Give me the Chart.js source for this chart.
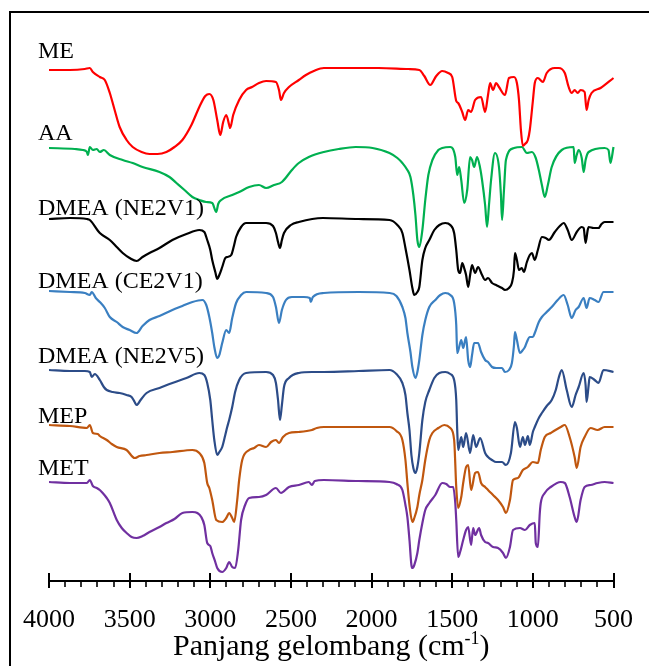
<!DOCTYPE html>
<html>
<head>
<meta charset="utf-8">
<script src="https://cdn.jsdelivr.net/npm/chart.js@4.4.1/dist/chart.umd.min.js"></script>
<style>
  html, body { margin: 0; padding: 0; background: #ffffff; }
  canvas { display: block; }
</style>
</head>
<body>
<canvas id="c" width="649" height="666"></canvas>
<script>
// ---- Data (wavenumber cm-1, offset transmittance in arbitrary units) ----
const seriesNames = ['ME', 'AA', 'DMEA (NE2V1)', 'DMEA (CE2V1)', 'DMEA (NE2V5)', 'MEP', 'MET'];
const xTickValues = [4000, 3500, 3000, 2500, 2000, 1500, 1000, 500];
const axisTitle = 'Panjang gelombang (cm';
const axisTitleSup = '-1';

const ME = [[4000,511],[3870,511],[3778,512],[3747,513],[3728,509],[3685,504],[3654,501],[3623,488],[3593,471],[3562,454],[3519,441],[3481,434],[3426,429],[3377,427],[3327,427],[3272,429],[3222,434],[3173,441],[3117,456],[3068,474],[3031,485],[3006,487],[2981,481],[2957,461],[2938,446],[2920,459],[2901,466],[2883,456],[2877,453],[2858,466],[2821,481],[2778,491],[2741,494],[2698,498],[2654,500],[2593,499],[2574,491],[2562,481],[2543,488],[2512,494],[2451,501],[2407,506],[2358,510],[2296,513],[2142,513],[1957,513],[1772,512],[1704,511],[1673,505],[1636,496],[1599,505],[1562,510],[1525,508],[1500,504],[1475,480],[1463,478],[1438,469],[1420,461],[1401,471],[1383,469],[1358,481],[1321,484],[1296,469],[1278,486],[1265,498],[1247,491],[1228,498],[1210,494],[1173,486],[1148,503],[1117,504],[1099,498],[1086,481],[1074,451],[1062,435],[1049,437],[1031,441],[1019,451],[1000,480],[988,498],[969,503],[938,499],[914,508],[864,513],[840,513],[802,508],[778,494],[759,488],[741,491],[722,488],[704,491],[679,489],[667,471],[654,481],[636,488],[580,493],[500,503]];

const AA = [[4000,433],[3840,432],[3790,431],[3765,429],[3759,426],[3747,434],[3728,431],[3704,432],[3685,429],[3660,431],[3623,426],[3543,421],[3481,418],[3420,414],[3315,409],[3253,404],[3210,398],[3160,391],[3111,384],[3068,381],[3025,379],[2988,378],[2963,369],[2951,377],[2932,381],[2864,386],[2821,389],[2759,394],[2698,396],[2654,393],[2605,396],[2556,399],[2494,411],[2451,418],[2389,424],[2296,429],[2204,432],[2099,434],[1994,433],[1889,428],[1840,423],[1809,418],[1778,411],[1759,404],[1741,386],[1728,366],[1716,341],[1704,334],[1685,351],[1667,381],[1648,406],[1623,421],[1586,431],[1562,433],[1512,434],[1481,424],[1469,406],[1457,414],[1444,401],[1426,378],[1407,391],[1389,424],[1377,421],[1364,414],[1346,424],[1327,413],[1315,401],[1296,376],[1284,354],[1272,376],[1259,401],[1235,428],[1210,414],[1198,386],[1191,361],[1179,391],[1167,421],[1117,433],[1068,434],[1037,428],[1006,429],[982,423],[963,411],[944,396],[926,384],[907,396],[883,414],[821,431],[747,434],[741,418],[728,426],[716,431],[697,423],[685,409],[673,421],[654,429],[555,433],[531,431],[519,418],[500,434]];

const NE2V1 = [[4000,362],[3870,363],[3765,362],[3747,361],[3685,348],[3623,341],[3580,334],[3543,328],[3500,323],[3457,320],[3420,324],[3377,328],[3315,333],[3235,341],[3148,347],[3068,351],[3037,349],[3019,341],[3000,331],[2988,321],[2969,309],[2957,302],[2944,306],[2926,314],[2907,323],[2895,324],[2870,326],[2852,336],[2840,344],[2809,354],[2778,358],[2654,358],[2611,355],[2593,348],[2580,339],[2568,333],[2556,341],[2543,348],[2500,356],[2451,359],[2302,363],[2080,362],[1889,361],[1840,356],[1809,348],[1790,333],[1765,311],[1747,293],[1735,286],[1716,289],[1704,294],[1685,321],[1667,333],[1642,341],[1611,351],[1580,356],[1543,358],[1512,356],[1488,348],[1475,331],[1463,311],[1451,308],[1438,318],[1426,313],[1414,306],[1401,294],[1389,306],[1377,316],[1358,308],[1340,314],[1315,306],[1296,301],[1278,303],[1253,298],[1228,296],[1191,293],[1173,291],[1148,293],[1130,298],[1117,311],[1111,328],[1099,321],[1086,311],[1068,313],[1056,309],[1037,319],[1019,326],[1006,328],[988,321],[969,331],[944,344],[920,343],[901,341],[864,349],[833,355],[809,358],[784,351],[759,341],[728,349],[697,354],[685,353],[673,338],[660,351],[654,354],[623,353],[593,353],[574,357],[555,359],[500,359]];

const CE2V1 = [[4000,290],[3870,289],[3778,288],[3747,286],[3735,289],[3710,283],[3685,279],[3654,273],[3623,264],[3580,259],[3543,254],[3500,251],[3457,248],[3420,255],[3377,261],[3315,265],[3235,271],[3173,275],[3111,279],[3049,281],[3025,276],[3006,264],[2988,248],[2975,234],[2957,223],[2944,226],[2926,238],[2901,251],[2883,248],[2864,263],[2840,278],[2809,286],[2778,289],[2654,288],[2611,284],[2593,274],[2574,258],[2556,271],[2531,281],[2494,284],[2420,284],[2383,283],[2377,279],[2364,284],[2296,288],[2080,289],[1889,288],[1846,285],[1809,274],[1790,263],[1778,248],[1759,229],[1747,214],[1728,203],[1716,209],[1704,221],[1685,246],[1667,261],[1642,274],[1605,281],[1574,286],[1543,288],[1512,286],[1488,278],[1475,256],[1469,228],[1457,234],[1444,241],[1432,233],[1414,244],[1401,221],[1389,214],[1377,226],[1364,238],[1340,238],[1321,229],[1296,221],[1278,219],[1253,214],[1228,213],[1191,213],[1173,209],[1148,211],[1130,218],[1117,236],[1111,249],[1099,241],[1080,228],[1062,231],[1049,234],[1037,239],[1019,244],[1000,244],[988,248],[963,259],[944,264],[914,269],[883,274],[846,281],[809,286],[784,276],[759,263],[735,271],[716,274],[685,283],[667,273],[648,283],[617,281],[593,279],[562,289],[500,289]];

const NE2V5 = [[4000,211],[3870,210],[3778,210],[3747,209],[3735,204],[3716,207],[3685,201],[3660,194],[3642,191],[3605,189],[3562,188],[3519,186],[3488,184],[3469,179],[3457,176],[3432,181],[3395,188],[3315,193],[3235,198],[3148,203],[3068,208],[3037,206],[3019,198],[3000,181],[2988,161],[2975,141],[2957,126],[2944,129],[2926,134],[2907,146],[2895,154],[2883,161],[2864,174],[2846,189],[2821,201],[2778,208],[2654,209],[2611,206],[2593,198],[2580,181],[2568,161],[2556,176],[2543,194],[2512,203],[2451,208],[2370,209],[2296,209],[2080,210],[1889,211],[1846,207],[1809,198],[1790,186],[1778,168],[1765,151],[1753,126],[1741,113],[1728,108],[1716,114],[1704,128],[1685,161],[1667,179],[1642,191],[1611,203],[1580,208],[1543,209],[1512,207],[1488,201],[1475,181],[1469,151],[1463,131],[1444,144],[1432,134],[1414,148],[1389,128],[1370,146],[1352,134],[1327,143],[1296,128],[1278,124],[1253,121],[1228,119],[1191,119],[1167,116],[1136,128],[1111,159],[1099,153],[1080,134],[1062,144],[1049,136],[1031,145],[1019,136],[1000,149],[988,154],[963,163],[944,168],[914,175],[883,181],[858,191],[840,203],[821,211],[790,191],[759,174],[735,186],[716,194],[685,208],[673,196],[667,179],[654,196],[648,204],[617,201],[593,198],[562,211],[500,209]];

const MEP = [[4000,156],[3870,155],[3765,153],[3747,156],[3728,148],[3697,147],[3685,145],[3642,141],[3611,137],[3580,134],[3519,131],[3469,123],[3438,125],[3395,126],[3315,128],[3235,129],[3111,131],[3068,128],[3037,118],[3019,98],[3006,93],[2988,81],[2963,61],[2926,59],[2901,63],[2883,68],[2864,63],[2852,59],[2833,81],[2821,101],[2802,121],[2759,131],[2728,133],[2698,136],[2654,134],[2623,139],[2593,141],[2574,138],[2549,144],[2512,148],[2451,149],[2370,151],[2340,153],[2296,154],[2080,154],[1889,154],[1846,150],[1809,141],[1790,121],[1778,98],[1765,76],[1747,59],[1735,63],[1716,74],[1704,86],[1685,101],[1667,121],[1642,141],[1623,148],[1586,153],[1549,156],[1512,153],[1488,141],[1475,94],[1463,73],[1444,84],[1432,98],[1414,114],[1401,116],[1383,91],[1358,108],[1340,109],[1321,98],[1296,94],[1278,91],[1247,86],[1216,81],[1185,74],[1167,68],[1142,81],[1123,101],[1093,103],[1062,111],[1031,114],[1000,119],[969,118],[951,131],[926,144],[889,148],[827,154],[802,156],[772,144],[741,124],[728,113],[704,134],[679,144],[642,153],[599,151],[555,154],[500,154]];

const MET = [[4000,99],[3870,98],[3809,98],[3765,98],[3747,101],[3728,95],[3704,93],[3685,91],[3667,88],[3642,83],[3623,78],[3580,61],[3549,53],[3519,48],[3488,44],[3457,43],[3420,45],[3377,49],[3315,54],[3272,58],[3222,62],[3173,68],[3111,69],[3080,68],[3056,64],[3037,56],[3019,38],[3000,35],[2988,28],[2969,19],[2957,13],[2926,9],[2901,13],[2883,19],[2864,14],[2846,13],[2827,31],[2809,61],[2784,76],[2759,83],[2698,84],[2654,86],[2593,93],[2562,88],[2512,94],[2451,96],[2389,99],[2370,96],[2352,100],[2296,101],[2080,100],[1889,99],[1846,97],[1809,91],[1790,76],[1778,64],[1765,41],[1753,16],[1747,13],[1735,16],[1716,28],[1704,41],[1685,58],[1667,71],[1642,78],[1605,86],[1562,98],[1537,97],[1512,94],[1494,94],[1481,78],[1475,61],[1463,24],[1451,29],[1432,41],[1414,51],[1401,54],[1383,36],[1370,53],[1358,46],[1333,53],[1321,46],[1296,39],[1278,38],[1247,34],[1216,33],[1185,28],[1167,23],[1142,34],[1123,51],[1080,53],[1049,51],[1019,56],[988,58],[982,38],[969,34],[957,68],[951,78],[926,88],[889,94],[827,99],[802,98],[772,84],[741,64],[728,59],[704,81],[679,94],[642,96],[599,98],[555,99],[500,98]];

const seriesData = [ME, AA, NE2V1, CE2V1, NE2V5, MEP, MET];

// ---- Styles / layout ----
const colors = ['#FF0000', '#00B050', '#000000', '#3A7FC1', '#2C4C88', '#C0570F', '#7030A0'];
const labelBaselineValues = [523, 441, 366, 293, 218, 158, 106];
const SERIF = '"Liberation Serif", "Times New Roman", serif';

const framePlugin = {
  id: 'framePlugin',
  beforeDraw(chart) {
    const ctx = chart.ctx;
    ctx.save();
    ctx.fillStyle = '#ffffff';
    ctx.fillRect(0, 0, chart.width, chart.height);
    ctx.restore();
  },
  afterDraw(chart) {
    const ctx = chart.ctx;
    const xs = chart.scales.x, ys = chart.scales.y;
    const area = chart.chartArea;
    ctx.save();
    // outer frame
    ctx.strokeStyle = '#000000';
    ctx.lineWidth = 2;
    ctx.strokeRect(10, 12, 700, 700);
    // tick marks
    const yb = area.bottom;
    for (let v = 500; v <= 4000; v += 100) {
      const px = Math.round(xs.getPixelForValue(v));
      ctx.beginPath();
      if (v % 500 === 0) {
        ctx.lineWidth = 2;
        ctx.moveTo(px, yb - 8);
        ctx.lineTo(px, yb + 7);
      } else {
        ctx.lineWidth = 1.6;
        ctx.moveTo(px, yb);
        ctx.lineTo(px, yb + 6);
      }
      ctx.stroke();
    }
    // series labels
    ctx.fillStyle = '#000000';
    ctx.font = '24px ' + SERIF;
    ctx.textAlign = 'left';
    ctx.textBaseline = 'alphabetic';
    seriesNames.forEach((n, i) => {
      ctx.fillText(n, area.left - 11, ys.getPixelForValue(labelBaselineValues[i]));
    });
    // axis title with superscript
    const mainFont = '30px ' + SERIF;
    const supFont = '18px ' + SERIF;
    ctx.font = mainFont;
    const w1 = ctx.measureText(axisTitle).width;
    const w3 = ctx.measureText(')').width;
    ctx.font = supFont;
    const w2 = ctx.measureText(axisTitleSup).width;
    const total = w1 + w2 + w3;
    const cx = (area.left + area.right) / 2;
    let x0 = cx - total / 2;
    const base = 655;
    ctx.font = mainFont;
    ctx.fillText(axisTitle, x0, base);
    ctx.font = supFont;
    ctx.fillText(axisTitleSup, x0 + w1, base - 11);
    ctx.font = mainFont;
    ctx.fillText(')', x0 + w1 + w2, base);
    ctx.restore();
  }
};

const datasets = seriesData.map((arr, i) => ({
  label: seriesNames[i],
  data: arr.map(p => ({ x: p[0], y: p[1] })),
  borderColor: colors[i],
  backgroundColor: colors[i],
  borderWidth: 2.2,
  pointRadius: 0,
  fill: false,
  cubicInterpolationMode: 'monotone',
  clip: false
}));

new Chart(document.getElementById('c'), {
  type: 'line',
  data: { datasets },
  options: {
    responsive: false,
    devicePixelRatio: 1,
    animation: false,
    events: [],
    layout: { padding: { left: 49, right: 33, top: 21, bottom: 0 } },
    plugins: { legend: { display: false }, tooltip: { enabled: false }, title: { display: false } },
    scales: {
      x: {
        type: 'linear',
        reverse: true,
        min: 500,
        max: 4000,
        afterBuildTicks: (scale) => { scale.ticks = xTickValues.map(v => ({ value: v })); },
        afterFit: (scale) => { scale.height = 85; },
        grid: { display: false },
        border: { display: true, color: '#000000', width: 2 },
        ticks: {
          autoSkip: false,
          maxRotation: 0,
          padding: 16,
          color: '#000000',
          font: { family: SERIF, size: 26 },
          callback: (v) => String(v)
        }
      },
      y: {
        type: 'linear',
        display: false,
        min: 0,
        max: 560
      }
    }
  },
  plugins: [framePlugin]
});
</script>
</body>
</html>
